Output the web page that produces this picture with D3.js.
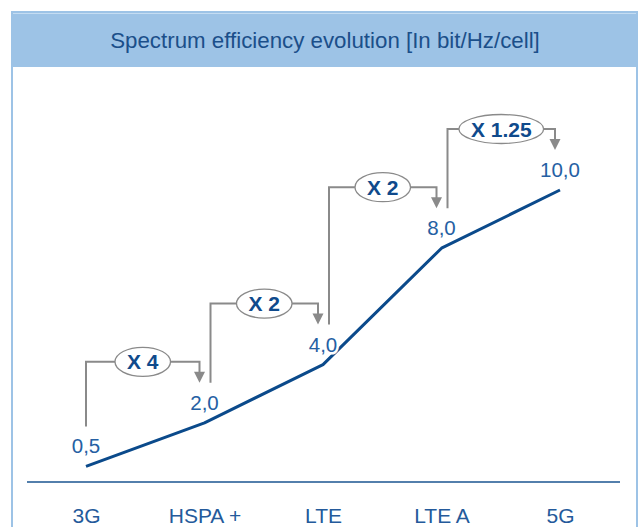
<!DOCTYPE html>
<html>
<head>
<meta charset="utf-8">
<script src="https://cdn.jsdelivr.net/npm/d3@7"></script>
<style>
    html, body { margin: 0; padding: 0; background: #fff; }
    svg { display: block; font-family: "Liberation Sans", Arial, sans-serif; }
</style>
</head>
<body>
<svg id="renderer" width="639" height="527"></svg>
<script>
const WINDOW_WIDTH = 639;
const WINDOW_HEIGHT = 527;

const HEADER_COLOR = '#9dc3e6';
const TITLE_COLOR = '#1b4f8a';
const LINE_COLOR = '#0b4a8b';
const LABEL_COLOR = '#2560a3';
const GUIDE_COLOR = '#8a8a8a';

// data
const categories = ['3G', 'HSPA +', 'LTE', 'LTE A', '5G'];
const efficiency = [0.5, 2, 4, 8, 10];
const multipliers = ['X 4', 'X 2', 'X 2', 'X 1.25'];
const titleText = 'Spectrum efficiency evolution [In bit/Hz/cell]';

const root = d3.select('#renderer');

// box + header
root.append('rect')
    .attr('x', 12).attr('y', 12)
    .attr('width', 625).attr('height', 540)
    .attr('fill', '#fff')
    .attr('stroke', HEADER_COLOR)
    .attr('stroke-width', 2);

root.append('rect')
    .attr('x', 12).attr('y', 12)
    .attr('width', 625).attr('height', 55)
    .attr('fill', HEADER_COLOR);

root.append('line')
    .attr('x1', 13).attr('y1', 13.5)
    .attr('x2', 636).attr('y2', 13.5)
    .attr('stroke', '#c4dcf2')
    .attr('stroke-width', 1);

root.append('text')
    .attr('x', 325).attr('y', 48)
    .attr('text-anchor', 'middle')
    .attr('font-size', 22.3)
    .attr('fill', TITLE_COLOR)
    .text(titleText);

// scales
let x = d3.scalePoint()
    .domain(categories)
    .range([86, 560]);

let y = d3.scaleLinear()
    .domain([0, 10])
    .range([481, 190]);

// baseline
root.append('line')
    .attr('x1', 27).attr('y1', 482)
    .attr('x2', 620).attr('y2', 482)
    .attr('stroke', '#1a5591')
    .attr('stroke-width', 1.5);

let axis = root.append('g')
    .attr('transform', 'translate(0,482)')
    .call(d3.axisBottom(x).tickSize(0).tickPadding(26));

axis.select('.domain').remove();
axis.selectAll('text')
    .attr('font-size', 21)
    .attr('font-family', '"Liberation Sans", Arial, sans-serif')
    .attr('fill', '#245a9b');

// line
let points = categories.map(function (c, i) {
    return { x: x(c), y: y(efficiency[i]), v: efficiency[i] };
});

let line = d3.line()
    .x(function (d) { return d.x; })
    .y(function (d) { return d.y; })
    .curve(d3.curveLinear);

root.append('path')
    .attr('d', line(points))
    .attr('fill', 'none')
    .attr('stroke', LINE_COLOR)
    .attr('stroke-width', 3)
    .attr('stroke-linejoin', 'round');

// value labels (comma decimal)
const fmt = d3.formatLocale({
    decimal: ',', thousands: '.', grouping: [3], currency: ['', '']
}).format('.1f');

root.selectAll('.value-label')
    .data(points)
    .enter()
    .append('text')
    .attr('class', 'value-label')
    .attr('x', function (d) { return d.x; })
    .attr('y', function (d) { return d.y - 13; })
    .attr('text-anchor', 'middle')
    .attr('font-size', 20.5)
    .attr('fill', LABEL_COLOR)
    .attr('stroke', '#fff')
    .attr('stroke-width', 5)
    .attr('paint-order', 'stroke')
    .text(function (d) { return fmt(d.v); });

// step annotations
let ann = root.append('g');

multipliers.forEach(function (label, i) {
    const from = points[i];
    const to = points[i + 1];
    const x0 = i === 0 ? from.x : from.x + 6;
    const x1 = to.x - 5;
    const bottom = from.y - 40;
    const top = to.y - 61;
    const tip = to.y - 40;

    ann.append('path')
        .attr('d', 'M' + x0 + ',' + bottom + 'V' + top + 'H' + x1 + 'V' + (tip - 9))
        .attr('fill', 'none')
        .attr('stroke', GUIDE_COLOR)
        .attr('stroke-width', 2);

    // arrow head
    ann.append('path')
        .attr('d', 'M' + (x1 - 5.5) + ',' + (tip - 11) + 'L' + (x1 + 5.5) + ',' + (tip - 11) + 'L' + x1 + ',' + tip + 'Z')
        .attr('fill', GUIDE_COLOR);

    const cx = (x0 + x1) / 2;
    let ellipse = ann.append('ellipse')
        .attr('cx', cx)
        .attr('cy', top)
        .attr('ry', 14.5)
        .attr('fill', '#fff')
        .attr('stroke', GUIDE_COLOR)
        .attr('stroke-width', 1.3);

    let t = ann.append('text')
        .attr('x', cx)
        .attr('y', top + 7.5)
        .attr('text-anchor', 'middle')
        .attr('font-size', 21)
        .attr('font-weight', 'bold')
        .attr('fill', '#0f4a8c')
        .text(label);

    const w = t.node().getComputedTextLength();
    ellipse.attr('rx', w / 2 + 12);
});
</script>
</body>
</html>
